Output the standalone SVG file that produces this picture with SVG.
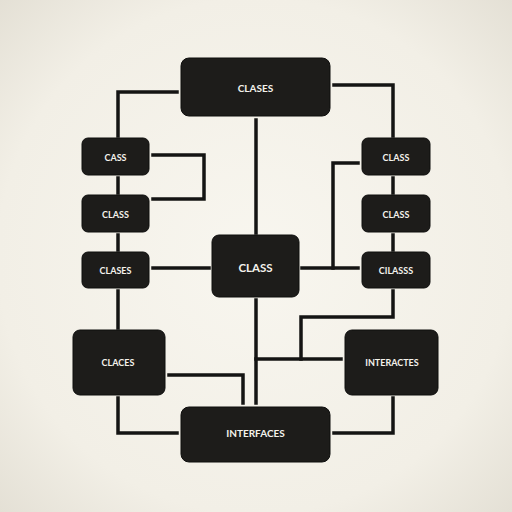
<svg xmlns="http://www.w3.org/2000/svg" width="512" height="512" viewBox="0 0 512 512">
<defs>
<radialGradient id="bg" cx="50%" cy="50%" r="72%">
<stop offset="0" stop-color="#f8f6ef"/>
<stop offset="0.7" stop-color="#f2efe6"/>
<stop offset="1" stop-color="#e3dfd4"/>
</radialGradient>
<style>
.n{fill:#1d1c1a;stroke:#0e0e0d;stroke-width:1}
.t{fill:#f4f2ec;font-family:"Lato","Open Sans",sans-serif;font-weight:bold;text-anchor:middle;dominant-baseline:central}
.s{font-size:9px}
.m{font-size:10px}
.l{font-size:11.5px}
.c{fill:none;stroke:#141413;stroke-width:3.5;stroke-linecap:square;stroke-linejoin:miter}
</style>
</defs>
<rect width="512" height="512" fill="url(#bg)"/>
<g id="connectors" class="c">
<polyline points="177,92 118,92 118,136"/>
<polyline points="334,85 393,85 393,136"/>
<line x1="256" y1="120" x2="256" y2="233"/>
<polyline points="153,155 204,155 204,199 153,199"/>
<polyline points="358,163 333,163 333,268"/>
<line x1="118" y1="178" x2="118" y2="193"/>
<line x1="118" y1="235" x2="118" y2="250"/>
<line x1="118" y1="291" x2="118" y2="328"/>
<line x1="393" y1="178" x2="393" y2="193"/>
<line x1="393" y1="235" x2="393" y2="250"/>
<line x1="153" y1="268" x2="209" y2="268"/>
<line x1="302" y1="268" x2="358" y2="268"/>
<polyline points="169,375 243,375 243,403"/>
<line x1="256" y1="300" x2="256" y2="403"/>
<line x1="256" y1="359" x2="341" y2="359"/>
<polyline points="301,359 301,317 393,317 393,291"/>
<polyline points="118,398 118,433 177,433"/>
<polyline points="393,398 393,433 334,433"/>
</g>
<g id="n-top"><rect class="n" x="181" y="58" width="149" height="58" rx="8"/><text class="t m" x="255.5" y="88">CLASES</text></g>
<g id="n-cass"><rect class="n" x="82" y="138" width="67" height="37" rx="6"/><text class="t s" x="115.5" y="157">CASS</text></g>
<g id="n-class-l"><rect class="n" x="82" y="195" width="67" height="37" rx="6"/><text class="t s" x="115.5" y="214">CLASS</text></g>
<g id="n-clases-l"><rect class="n" x="82" y="252" width="67" height="36" rx="6"/><text class="t s" x="115.5" y="270">CLASES</text></g>
<g id="n-class-r1"><rect class="n" x="362" y="138" width="68" height="37" rx="6"/><text class="t s" x="396" y="157">CLASS</text></g>
<g id="n-class-r2"><rect class="n" x="362" y="195" width="68" height="37" rx="6"/><text class="t s" x="396" y="214">CLASS</text></g>
<g id="n-cliasss"><rect class="n" x="362" y="252" width="68" height="36" rx="6"/><text class="t s" x="396" y="270">CILASSS</text></g>
<g id="n-center"><rect class="n" x="212" y="235" width="87" height="62" rx="7"/><text class="t l" x="255.5" y="267">CLASS</text></g>
<g id="n-claces"><rect class="n" x="73" y="330" width="92" height="65" rx="7"/><text class="t s" x="118" y="362">CLACES</text></g>
<g id="n-interactes"><rect class="n" x="345" y="330" width="93" height="65" rx="7"/><text class="t s" x="392" y="362">INTERACTES</text></g>
<g id="n-interfaces"><rect class="n" x="181" y="407" width="149" height="55" rx="8"/><text class="t m" x="255.5" y="433">INTERFACES</text></g>
</svg>
